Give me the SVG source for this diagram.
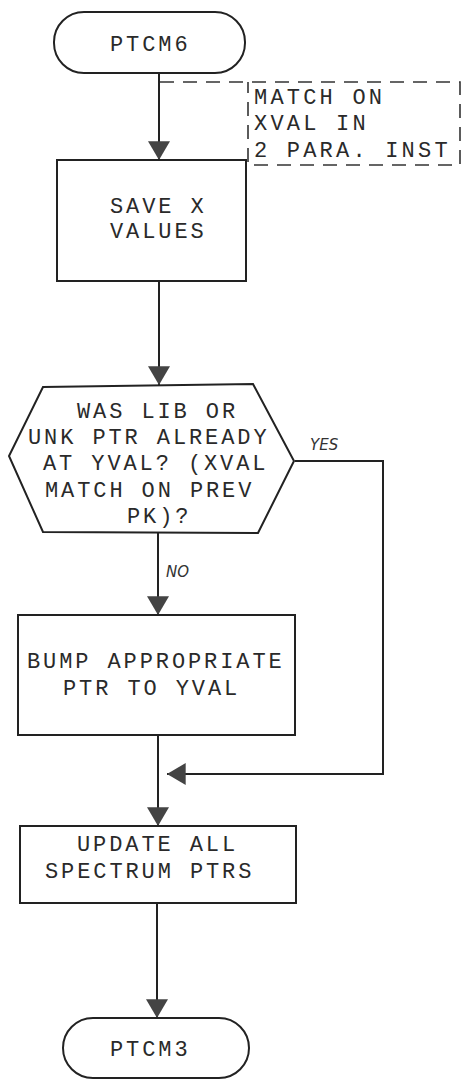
<svg xmlns="http://www.w3.org/2000/svg" width="468" height="1080" viewBox="0 0 468 1080">
<style>
.s{fill:#fff;stroke:#222;stroke-width:2}
.t{font-family:"Liberation Mono","DejaVu Sans Mono",monospace;font-size:22px;letter-spacing:2.9px;fill:#2a2a2a}
.a{font-family:"Liberation Mono","DejaVu Sans Mono",monospace;font-size:22px;letter-spacing:3.2px;fill:#2a2a2a}
.c{fill:none;stroke:#222;stroke-width:2}
.h{font-family:"DejaVu Sans",sans-serif;font-size:15px;font-style:italic;fill:#333}
</style>
<defs>
<marker id="arr" markerUnits="userSpaceOnUse" markerWidth="20" markerHeight="22" refX="17" refY="10" orient="auto" viewBox="0 0 17 20">
<path d="M0,0 L17,10 L0,20 z" fill="#444"/>
</marker>
</defs>
<rect width="468" height="1080" fill="#fff"/>
<g id="connectors">
<path class="c" d="M159,73 V160" marker-end="url(#arr)"/>
<path class="c" d="M159,281 V385" marker-end="url(#arr)"/>
<path class="c" d="M158,533 V615" marker-end="url(#arr)"/>
<path class="c" d="M158,735 V826" marker-end="url(#arr)"/>
<path class="c" d="M295,461 H383 V774 H167" marker-end="url(#arr)"/>
<path class="c" d="M157,903 V1018" marker-end="url(#arr)"/>
<text class="h" x="310" y="450">YES</text>
<text class="h" x="166" y="577">NO</text>
</g>
<g id="annotation">
<path d="M160,82 H460 V165 H248 V82" fill="none" stroke="#333" stroke-width="1.6" stroke-dasharray="14 9"/>
<text class="a" x="254" y="104">MATCH ON</text>
<text class="a" x="254" y="130">XVAL IN</text>
<text class="a" x="254" y="157">2 PARA. INST</text>
</g>
<g id="ptcm6">
<rect class="s" x="54" y="12" width="191" height="61" rx="30" ry="30"/>
<text class="t" x="110" y="51">PTCM6</text>
</g>
<g id="save">
<rect class="s" x="57" y="160" width="189" height="121"/>
<text class="t" x="110" y="213">SAVE X</text>
<text class="t" x="110" y="238">VALUES</text>
</g>
<g id="decision">
<polygon class="s" points="43,387 253,384 294,461 258,533 43,532 9,456"/>
<text class="t" x="77" y="418">WAS LIB OR</text>
<text class="t" x="28" y="444">UNK PTR ALREADY</text>
<text class="t" x="43" y="470">AT YVAL? (XVAL</text>
<text class="t" x="45" y="497">MATCH ON PREV</text>
<text class="t" x="127" y="523">PK)?</text>
</g>
<g id="bump">
<rect class="s" x="18" y="615" width="277" height="120"/>
<text class="t" x="27" y="668">BUMP APPROPRIATE</text>
<text class="t" x="63" y="695">PTR TO YVAL</text>
</g>
<g id="update">
<rect class="s" x="20" y="826" width="276" height="77"/>
<text class="t" x="77" y="851">UPDATE ALL</text>
<text class="t" x="45" y="878">SPECTRUM PTRS</text>
</g>
<g id="ptcm3">
<rect class="s" x="63" y="1018" width="186" height="60" rx="30" ry="30"/>
<text class="t" x="110" y="1056">PTCM3</text>
</g>
</svg>
